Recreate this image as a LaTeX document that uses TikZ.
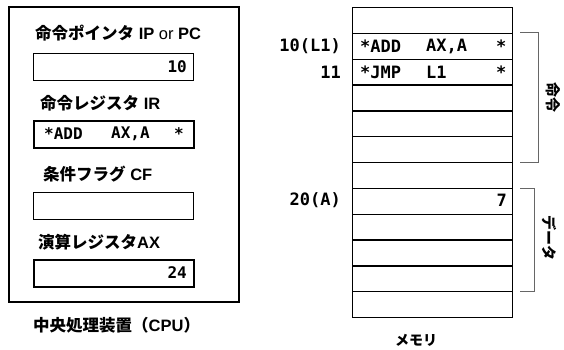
\documentclass[tikz,border=0pt]{standalone}
\usepackage{fontspec}
\setmainfont{Liberation Sans}
\newfontfamily\jp{Noto Sans CJK JP}
\newfontfamily\mono{DejaVu Sans Mono}
\begin{document}
\begin{tikzpicture}[x=1pt,y=-1pt,
  lbl/.style={inner sep=0pt, font=\fontsize{16.5}{16.5}\selectfont\bfseries},
  reg/.style={draw, minimum width=160pt, minimum height=27pt, inner sep=0pt, anchor=north west},
  thinreg/.style={reg, line width=1pt},
  thickreg/.style={reg, line width=2pt},
  cell/.style={draw, line width=1.3pt, minimum width=160pt, minimum height=25.83pt, inner sep=0pt, anchor=north west},
  mtxt/.style={inner sep=0pt, font=\mono\fontsize{17}{17}\selectfont\bfseries},
  rtxt/.style={inner sep=0pt, font=\mono\fontsize{16}{16}\selectfont\bfseries},
  brk/.style={draw=black!60, line width=1pt},
  vlbl/.style={inner sep=0pt, rotate=-90, font=\jp\fontsize{15}{15}\selectfont\bfseries}
]
\useasboundingbox (0,0) rectangle (564,350);
% CPU
\node[draw, line width=2.4pt, minimum width=230pt, minimum height=295pt, inner sep=0pt, anchor=north west] (cpu) at (8,6) {};
\node[lbl, anchor=west] (t1) at (35,33) {{\jp 命令ポインタ} IP {\mdseries or} PC};
\node[thinreg] (r1) at (33,53) {};
\node[rtxt, anchor=east] (v1) at (187,67) {10};
\node[lbl, anchor=west] (t2) at (40,103) {{\jp 命令レジスタ} IR};
\node[thickreg] (r2) at (33,120) {};
\node[rtxt, anchor=west] (v2a) at (44,134) {*ADD};
\node[rtxt, anchor=west] (v2b) at (111,134) {AX,A};
\node[rtxt, anchor=west] (v2c) at (174,134) {*};
\node[lbl, anchor=west] (t3) at (43,174) {{\jp 条件フラグ} CF};
\node[thinreg] (r3) at (33,192) {};
\node[lbl, anchor=west] (t4) at (38,242) {{\jp 演算レジスタ}AX};
\node[thickreg] (r4) at (33,259) {};
\node[rtxt, anchor=east] (v4) at (187,273) {24};
\node[lbl, anchor=west] (cpulbl) at (33,325) {{\jp 中央処理装置（}CPU{\jp ）}};
% Memory
\foreach \i in {0,...,11} {
  \node[cell] (m\i) at (352,{7+25.83*\i}) {};
}
\node[mtxt, anchor=east] (a1) at (341,46) {10(L1)};
\node[mtxt, anchor=east] (a2) at (341,72) {11};
\node[mtxt, anchor=east] (a7) at (341,200) {20(A)};
\node[mtxt, anchor=west] (c1a) at (360,46) {*ADD};
\node[mtxt, anchor=west] (c1b) at (426,46) {AX,A};
\node[mtxt, anchor=west] (c1c) at (496,46) {*};
\node[mtxt, anchor=west] (c2a) at (360,72) {*JMP};
\node[mtxt, anchor=west] (c2b) at (426,72) {L1};
\node[mtxt, anchor=west] (c2c) at (496,72) {*};
\node[mtxt, anchor=east] (c7) at (507,200) {7};
% brackets
\coordinate (b1a) at (520,33);
\coordinate (b1b) at (520,162);
\coordinate (b2a) at (520,188);
\coordinate (b2b) at (520,291);
\draw[brk] (b1a) -- ++(18,0) |- (b1b);
\draw[brk] (b2a) -- ++(14,0) |- (b2b);
\node[vlbl] (inst) at (553,98) {命令};
\node[vlbl] (data) at (549,238) {データ};
\node[lbl, font=\jp\fontsize{14}{14}\selectfont\bfseries] (memlbl) at (416,340) {メモリ};
\end{tikzpicture}
\end{document}
